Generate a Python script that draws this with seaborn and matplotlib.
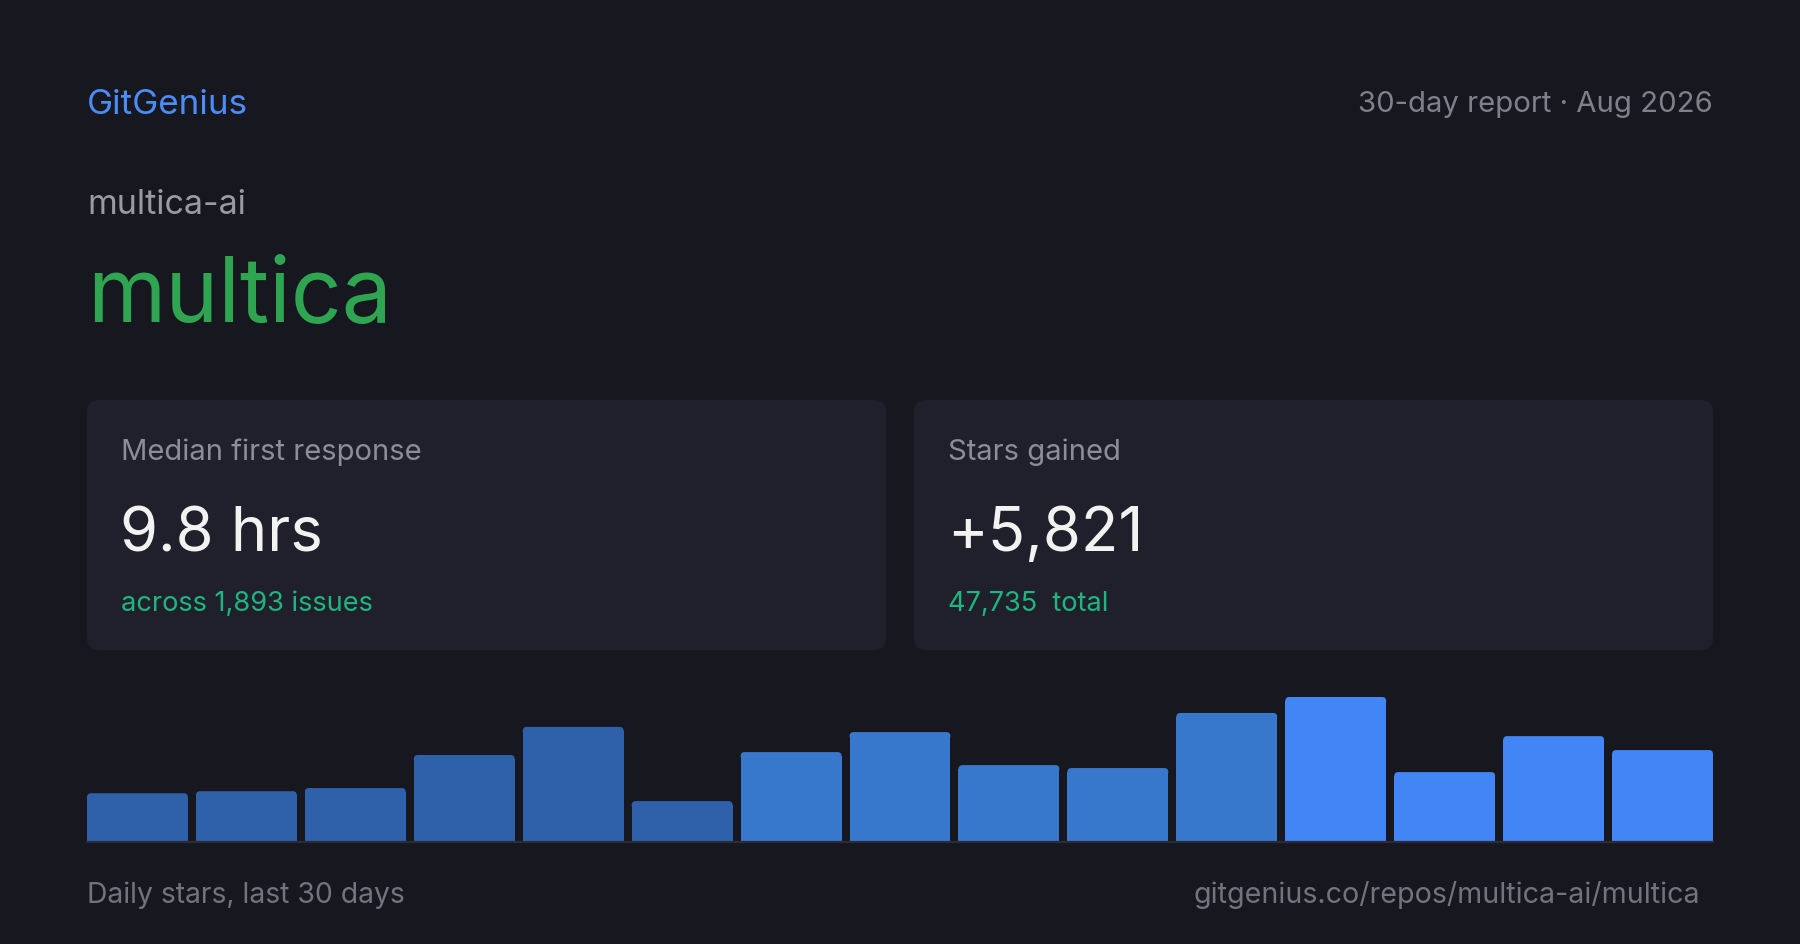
import matplotlib
matplotlib.use("Agg")
import matplotlib.pyplot as plt
import seaborn as sns
import pandas as pd
from matplotlib.patches import FancyBboxPatch

# data
day_bins = [f"d{i + 1}" for i in range(15)]
daily_stars = [217, 226, 240, 387, 512, 182, 400, 489, 342, 329, 574, 645, 311, 471, 409]
bar_colors = ["#2f60aa"] * 6 + ["#3878cc"] * 5 + ["#4285f4"] * 4

repo_owner = "multica-ai"
repo_name = "multica"
report_label = "30-day report \u00b7 Aug 2026"
card_titles = ["Median first response", "Stars gained"]
card_values = ["9.8 hrs", "+5,821"]
card_notes = ["across 1,893 issues", "47,735  total"]

BG = "#16171f"
CARD = "#1f202b"
W, H = 1800, 945

sns.set_theme(style="white")
plt.rcParams["font.family"] = ["Inter", "DejaVu Sans"]

fig = plt.figure(figsize=(W / 100, H / 100), dpi=100, facecolor=BG)

# background layer in pixel coords
bg = fig.add_axes([0, 0, 1, 1])
bg.set_xlim(0, W)
bg.set_ylim(H, 0)
bg.axis("off")
bg.set_facecolor(BG)


def pt(px):
    return px * 0.72


bg.text(87, 114, "GitGenius", color="#4b8df8", fontsize=pt(35), va="baseline")
bg.text(1713, 112, report_label, color="#7f808b", fontsize=pt(29.3), va="baseline", ha="right")
bg.text(87, 214, repo_owner, color="#9a9aa3", fontsize=pt(34), va="baseline")
bg.text(87, 322, repo_name, color="#2fa552", fontsize=pt(89.5), va="baseline")

card_x = [87, 914]
for i in range(2):
    x0 = card_x[i]
    bg.add_patch(FancyBboxPatch((x0, 401), 799, 250,
                                boxstyle="round,pad=0,rounding_size=12",
                                facecolor=CARD, edgecolor="none"))
    bg.text(x0 + 34, 460, card_titles[i], color="#8c8d98", fontsize=pt(29.2), va="baseline")
    bg.text(x0 + 33, 551, card_values[i], color="#f2f2f0", fontsize=pt(61.5), va="baseline")
    bg.text(x0 + 34, 611, card_notes[i], color="#1fb57f", fontsize=pt(27.2), va="baseline")

bg.text(87, 903, "Daily stars, last 30 days", color="#72737e", fontsize=pt(28.3), va="baseline")
bg.text(1700, 903, "gitgenius.co/repos/multica-ai/multica", color="#72737e",
        fontsize=pt(28.6), va="baseline", ha="right")

# bar chart
ax_left, ax_right, ax_base, ax_top = 87, 1713, 843, 698
ax = fig.add_axes([ax_left / W, 1 - ax_base / H, (ax_right - ax_left) / W, (ax_base - ax_top) / H])
df = pd.DataFrame({"day": day_bins, "stars": daily_stars})
bar_w = 0.926
sns.barplot(data=df, x="day", y="stars", hue="day", palette=bar_colors, legend=False,
            width=bar_w, saturation=1, linewidth=0, edgecolor="none", ax=ax)
ymax = max(daily_stars)
ax.set_xlim(-bar_w / 2, len(day_bins) - 1 + bar_w / 2)
ax.set_ylim(0, ymax)
ax.set_facecolor("none")
ax.set_xticks([])
ax.set_yticks([])
ax.set_xlabel("")
ax.set_ylabel("")
for s in ["top", "left", "right"]:
    ax.spines[s].set_visible(False)
ax.spines["bottom"].set_color("#2a2b36")
ax.spines["bottom"].set_linewidth(1.6)
ax.spines["bottom"].set_zorder(5)

# round the top corners
px_per_x = (ax_right - ax_left) / (len(day_bins) - 1 + bar_w)
px_per_y = (ax_base - ax_top) / ymax
r = 4
rx, ry = r / px_per_x, r / px_per_y
for p in list(ax.patches):
    x, w, h = p.get_x(), p.get_width(), p.get_height()
    p.set_height(h - ry)
    ax.add_patch(FancyBboxPatch((x, h - 2 * ry), w, 2 * ry,
                                boxstyle=f"round,pad=0,rounding_size={rx}",
                                mutation_aspect=ry / rx,
                                facecolor=p.get_facecolor(), edgecolor="none",
                                linewidth=0, clip_on=False))

fig.savefig("out.png", dpi=100, facecolor=BG)
